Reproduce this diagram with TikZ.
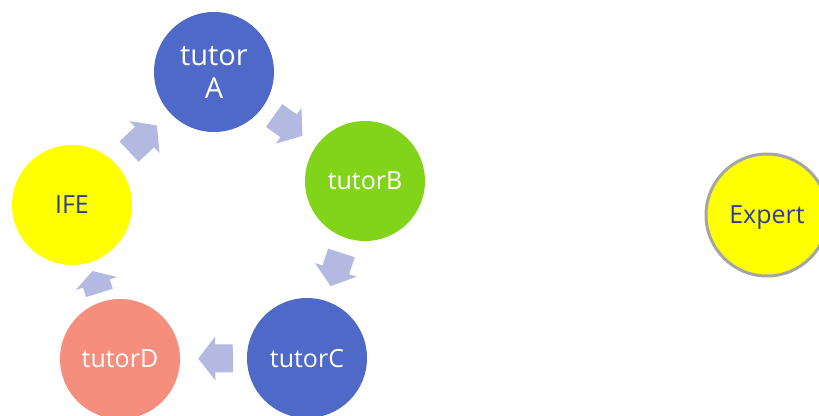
\documentclass[tikz,border=0pt]{standalone}
\usepackage{fontspec}
\setmainfont{Open Sans}
\usetikzlibrary{arrows.meta}
\definecolor{tblue}{HTML}{4F69C8}
\definecolor{tgreen}{HTML}{81D41A}
\definecolor{tsalmon}{HTML}{F68E7E}
\definecolor{tyellow}{HTML}{FFFF00}
\definecolor{tarrow}{HTML}{B3B9E0}
\definecolor{tdark}{HTML}{2E3D9A}
\definecolor{tgray}{HTML}{A5A5A5}

\begin{document}
\begin{tikzpicture}[x=1pt, y=-1pt,
		tut/.style={circle, minimum size=120pt, inner sep=0pt, text depth=0pt, text=white, font=\fontsize{25}{30}\selectfont},
		flow/.style={tarrow, line width=28pt, -{Triangle[length=17pt, width=43pt]}}]
			\useasboundingbox (0,0) rectangle (819,415);
			\clip (0,0) rectangle (819,415);

			% Tutors
			\node[tut, fill=tblue, align=center, font=\fontsize{29}{33}\selectfont] (A) at (214,72) {tutor\\A};
			\node[tut, fill=tgreen] (B) at (365,181) {tutorB};
			\node[tut, fill=tblue] (C) at (307,358) {tutorC};
			\node[tut, fill=tsalmon] (D) at (120,359) {tutorD};
			\node[tut, fill=tyellow, text=tdark] (IFE) at (72,205) {IFE};

			% Expert
			\node[tut, fill=tyellow, text=tdark, draw=tgray, line width=3pt, minimum size=122pt] (Exp) at (767,215) {Expert};

			% Arrows
			\draw[flow, shorten <=14pt, shorten >=17pt] (A) -- (B);
			\draw[flow, shorten <=15.5pt, shorten >=15.5pt] (B) -- (C);
			\draw[flow, shorten <=14pt, shorten >=18pt] (C) -- (D);
			\draw[flow, shorten <=9pt, shorten >=9pt, -{Triangle[length=13pt, width=43pt]}] (D) -- (IFE);
			\draw[flow, shorten <=18pt, shorten >=18pt] (IFE) -- (A);
		\end{tikzpicture}
\end{document}
